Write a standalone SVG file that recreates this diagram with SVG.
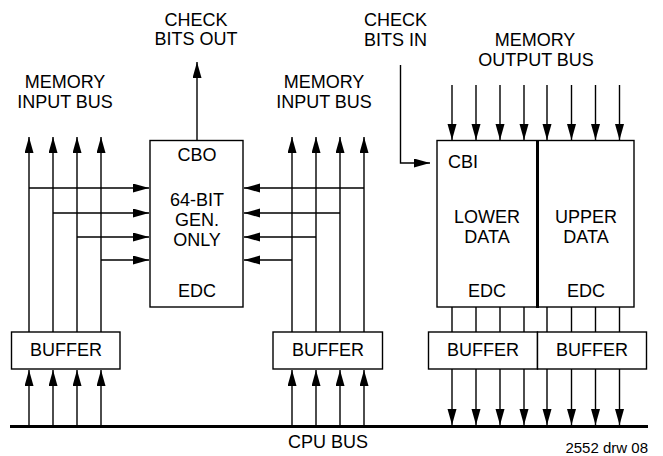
<svg xmlns="http://www.w3.org/2000/svg" width="663" height="456" viewBox="0 0 663 456">
<style>
text{font-family:"Liberation Sans",Arial,sans-serif;font-size:18px;fill:#000}
.c{text-anchor:middle}
.box{fill:#fff;stroke:#000;stroke-width:1.4}
.ln{stroke:#000;stroke-width:1.4;fill:none}
.a{marker-end:url(#ah)}
</style>
<defs>
<marker id="ah" markerUnits="userSpaceOnUse" markerWidth="17" markerHeight="10" refX="16" refY="4.5" orient="auto">
<path d="M0,0 L16,4.5 L0,9 z" fill="#000"/>
</marker>
</defs>
<g id="labels">
<text class="c" x="196" y="26">CHECK</text>
<text class="c" x="196" y="45">BITS OUT</text>
<text x="364" y="26">CHECK</text>
<text x="364" y="46">BITS IN</text>
<text class="c" x="535" y="46">MEMORY</text>
<text class="c" x="536" y="66">OUTPUT BUS</text>
<text class="c" x="65" y="88">MEMORY</text>
<text class="c" x="65" y="108">INPUT BUS</text>
<text class="c" x="324" y="88">MEMORY</text>
<text class="c" x="324" y="108">INPUT BUS</text>
<text class="c" x="328" y="448">CPU BUS</text>
<text x="648" y="453" style="font-size:15px;text-anchor:end">2552 drw 08</text>
</g>
<g id="connectors">
<!-- CBO out -->
<line class="ln a" x1="197" y1="140" x2="197" y2="62"/>
<!-- left memory input bus -->
<line class="ln a" x1="29" y1="332" x2="29" y2="137"/>
<line class="ln a" x1="53" y1="332" x2="53" y2="137"/>
<line class="ln a" x1="77" y1="332" x2="77" y2="137"/>
<line class="ln a" x1="101" y1="332" x2="101" y2="137"/>
<line class="ln a" x1="29" y1="188" x2="149" y2="188"/>
<line class="ln a" x1="53" y1="213" x2="149" y2="213"/>
<line class="ln a" x1="77" y1="237" x2="149" y2="237"/>
<line class="ln a" x1="101" y1="260" x2="149" y2="260"/>
<!-- middle memory input bus -->
<line class="ln a" x1="292" y1="332" x2="292" y2="137"/>
<line class="ln a" x1="316" y1="332" x2="316" y2="137"/>
<line class="ln a" x1="340" y1="332" x2="340" y2="137"/>
<line class="ln a" x1="364" y1="332" x2="364" y2="137"/>
<line class="ln a" x1="364" y1="188" x2="244" y2="188"/>
<line class="ln a" x1="340" y1="213" x2="244" y2="213"/>
<line class="ln a" x1="316" y1="237" x2="244" y2="237"/>
<line class="ln a" x1="292" y1="260" x2="244" y2="260"/>
<!-- check bits in -->
<path class="ln a" d="M400.5,65 V163 H430"/>
<!-- memory output bus -->
<line class="ln a" x1="452" y1="85" x2="452" y2="140"/>
<line class="ln a" x1="476" y1="85" x2="476" y2="140"/>
<line class="ln a" x1="500" y1="85" x2="500" y2="140"/>
<line class="ln a" x1="524" y1="85" x2="524" y2="140"/>
<line class="ln a" x1="547" y1="85" x2="547" y2="140"/>
<line class="ln a" x1="571.5" y1="85" x2="571.5" y2="140"/>
<line class="ln a" x1="595.5" y1="85" x2="595.5" y2="140"/>
<line class="ln a" x1="619.5" y1="85" x2="619.5" y2="140"/>
<!-- EDC to buffers -->
<path class="ln" d="M452,307V332 M476,307V332 M500,307V332 M524,307V332 M547,307V332 M571.5,307V332 M595.5,307V332 M619.5,307V332"/>
<!-- buffers to CPU bus -->
<line class="ln a" x1="452" y1="369" x2="452" y2="425"/>
<line class="ln a" x1="476" y1="369" x2="476" y2="425"/>
<line class="ln a" x1="500" y1="369" x2="500" y2="425"/>
<line class="ln a" x1="524" y1="369" x2="524" y2="425"/>
<line class="ln a" x1="547" y1="369" x2="547" y2="425"/>
<line class="ln a" x1="571.5" y1="369" x2="571.5" y2="425"/>
<line class="ln a" x1="595.5" y1="369" x2="595.5" y2="425"/>
<line class="ln a" x1="619.5" y1="369" x2="619.5" y2="425"/>
<!-- CPU bus to left buffer -->
<line class="ln a" x1="29" y1="426" x2="29" y2="370"/>
<line class="ln a" x1="53" y1="426" x2="53" y2="370"/>
<line class="ln a" x1="77" y1="426" x2="77" y2="370"/>
<line class="ln a" x1="101" y1="426" x2="101" y2="370"/>
<!-- CPU bus to middle buffer -->
<line class="ln a" x1="292" y1="426" x2="292" y2="370"/>
<line class="ln a" x1="316" y1="426" x2="316" y2="370"/>
<line class="ln a" x1="340" y1="426" x2="340" y2="370"/>
<line class="ln a" x1="364" y1="426" x2="364" y2="370"/>
<!-- CPU bus -->
<line x1="10" y1="426.5" x2="648" y2="426.5" stroke="#000" stroke-width="3"/>
</g>
<g id="edc-gen">
<rect class="box" x="150" y="140.5" width="93" height="166.5"/>
<text class="c" x="197" y="161">CBO</text>
<text class="c" x="197" y="206">64-BIT</text>
<text class="c" x="197" y="226">GEN.</text>
<text class="c" x="197" y="245.5">ONLY</text>
<text class="c" x="197" y="297">EDC</text>
</g>
<g id="edc-correct">
<rect class="box" x="437" y="140.5" width="197" height="166.5"/>
<line x1="537.5" y1="140.5" x2="537.5" y2="308" stroke="#000" stroke-width="3"/>
<text x="448" y="168">CBI</text>
<text class="c" x="487" y="223">LOWER</text>
<text class="c" x="487" y="242.5">DATA</text>
<text class="c" x="586" y="223">UPPER</text>
<text class="c" x="586" y="242.5">DATA</text>
<text class="c" x="487" y="297">EDC</text>
<text class="c" x="586" y="297">EDC</text>
</g>
<g id="buffer-left">
<rect class="box" x="11.5" y="332" width="108.5" height="37"/>
<text class="c" x="66" y="356">BUFFER</text>
</g>
<g id="buffer-mid">
<rect class="box" x="273" y="332" width="109.5" height="37"/>
<text class="c" x="328" y="356">BUFFER</text>
</g>
<g id="buffer-lower">
<rect class="box" x="428.5" y="332" width="109" height="37"/>
<text class="c" x="483" y="356">BUFFER</text>
</g>
<g id="buffer-upper">
<rect class="box" x="537.5" y="332" width="109" height="37"/>
<text class="c" x="592" y="356">BUFFER</text>
</g>
</svg>
